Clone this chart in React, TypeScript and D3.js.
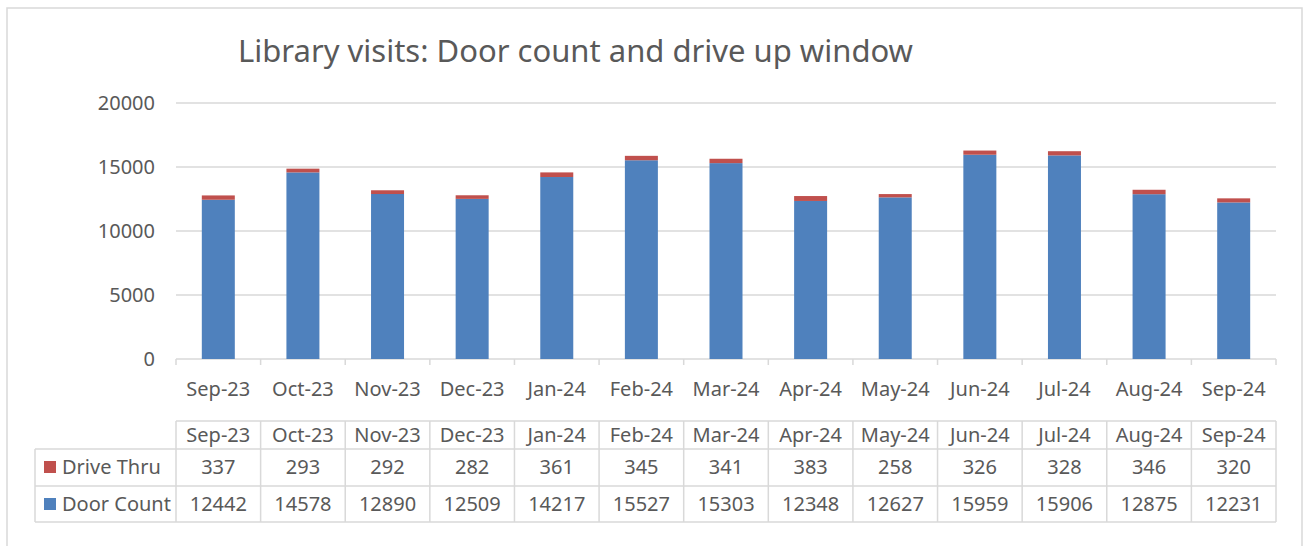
import React from 'react';
import * as d3 from 'd3';

const months = ['Sep-23', 'Oct-23', 'Nov-23', 'Dec-23', 'Jan-24', 'Feb-24', 'Mar-24', 'Apr-24', 'May-24', 'Jun-24', 'Jul-24', 'Aug-24', 'Sep-24'];
const doorCount = [12442, 14578, 12890, 12509, 14217, 15527, 15303, 12348, 12627, 15959, 15906, 12875, 12231];
const driveThru = [337, 293, 292, 282, 361, 345, 341, 383, 258, 326, 328, 346, 320];
const yTicks = [0, 5000, 10000, 15000, 20000];

const seriesNames = ['Drive Thru', 'Door Count'];
const colors = { 'Door Count': '#4F81BD', 'Drive Thru': '#C0504D' };

const W = 1308;
const H = 546;
const font = '"Noto Sans", "Open Sans", sans-serif';
const textColor = '#595959';
const gridColor = '#d9d9d9';

const App = () => {
  // plot area
  const left = 176;
  const right = 1276;
  const top = 103;
  const bottom = 359;

  const x = d3.scaleBand<string>().domain(months).range([left, right]).paddingInner(0.61).paddingOuter(0.305);
  const col = d3.scaleBand<string>().domain(months).range([left, right]);
  const y = d3.scaleLinear().domain([0, 20000]).range([bottom, top]);

  const rows = months.map((m, i) => ({ month: m, 'Door Count': doorCount[i], 'Drive Thru': driveThru[i] }));
  const stacked = d3.stack<any>().keys(['Door Count', 'Drive Thru'])(rows);

  // data table geometry
  const tTop = 421;
  const tHead = 449;
  const tRow1 = 486;
  const tBottom = 522;
  const legendLeft = 35;

  return (
    <svg width={W} height={H} style={{ position: 'absolute', left: 0, top: 0 }} fontFamily={font}>
      <rect x={0} y={0} width={W} height={H} fill="#fff" />
      <rect x={7} y={8} width={1295} height={560} fill="none" stroke={gridColor} strokeWidth={1.5} />

      <text x={238} y={62} fontSize={31} fill={textColor}>
        Library visits: Door count and drive up window
      </text>

      {/* gridlines and y labels */}
      {yTicks.map((t) => (
        <g key={t}>
          <line x1={left} x2={right} y1={y(t)} y2={y(t)} stroke={gridColor} strokeWidth={1.5} />
          <text x={155} y={y(t)} dy="0.35em" textAnchor="end" fontSize={20} fill={textColor}>
            {t}
          </text>
        </g>
      ))}

      {/* bars */}
      {stacked.map((s) => (
        <g key={s.key} fill={colors[s.key]}>
          {s.map((d, i) => (
            <rect key={i} x={x(months[i])} width={x.bandwidth()} y={y(d[1])} height={y(d[0]) - y(d[1])} />
          ))}
        </g>
      ))}

      {/* category ticks */}
      {[...months.map((m) => col(m) as number), right].map((bx, i) => (
        <line key={i} x1={bx} x2={bx} y1={bottom} y2={bottom + 6} stroke={gridColor} strokeWidth={1.5} />
      ))}
      {months.map((m) => (
        <text key={m} x={(col(m) as number) + col.bandwidth() / 2} y={396} textAnchor="middle" fontSize={20} fill={textColor}>
          {m}
        </text>
      ))}

      {/* data table */}
      <g stroke={gridColor} strokeWidth={1.5} fill="none">
        <line x1={left} x2={right} y1={tTop} y2={tTop} />
        <line x1={legendLeft} x2={right} y1={tHead} y2={tHead} />
        <line x1={legendLeft} x2={right} y1={tRow1} y2={tRow1} />
        <line x1={legendLeft} x2={right} y1={tBottom} y2={tBottom} />
        <line x1={legendLeft} x2={legendLeft} y1={tHead} y2={tBottom} />
        {[...months.map((m) => col(m) as number), right].map((bx, i) => (
          <line key={i} x1={bx} x2={bx} y1={tTop} y2={tBottom} />
        ))}
      </g>
      {months.map((m, i) => {
        const cx = (col(m) as number) + col.bandwidth() / 2;
        return (
          <g key={m} textAnchor="middle" fontSize={20} fill={textColor}>
            <text x={cx} y={442}>{m}</text>
            <text x={cx} y={474}>{driveThru[i]}</text>
            <text x={cx} y={511}>{doorCount[i]}</text>
          </g>
        );
      })}
      {seriesNames.map((name, i) => {
        const baseline = i === 0 ? 474 : 511;
        return (
          <g key={name}>
            <rect x={44} y={baseline - 13} width={12} height={12} fill={colors[name]} />
            <text x={62} y={baseline} fontSize={20} fill={textColor}>{name}</text>
          </g>
        );
      })}
    </svg>
  );
};

export default App;
